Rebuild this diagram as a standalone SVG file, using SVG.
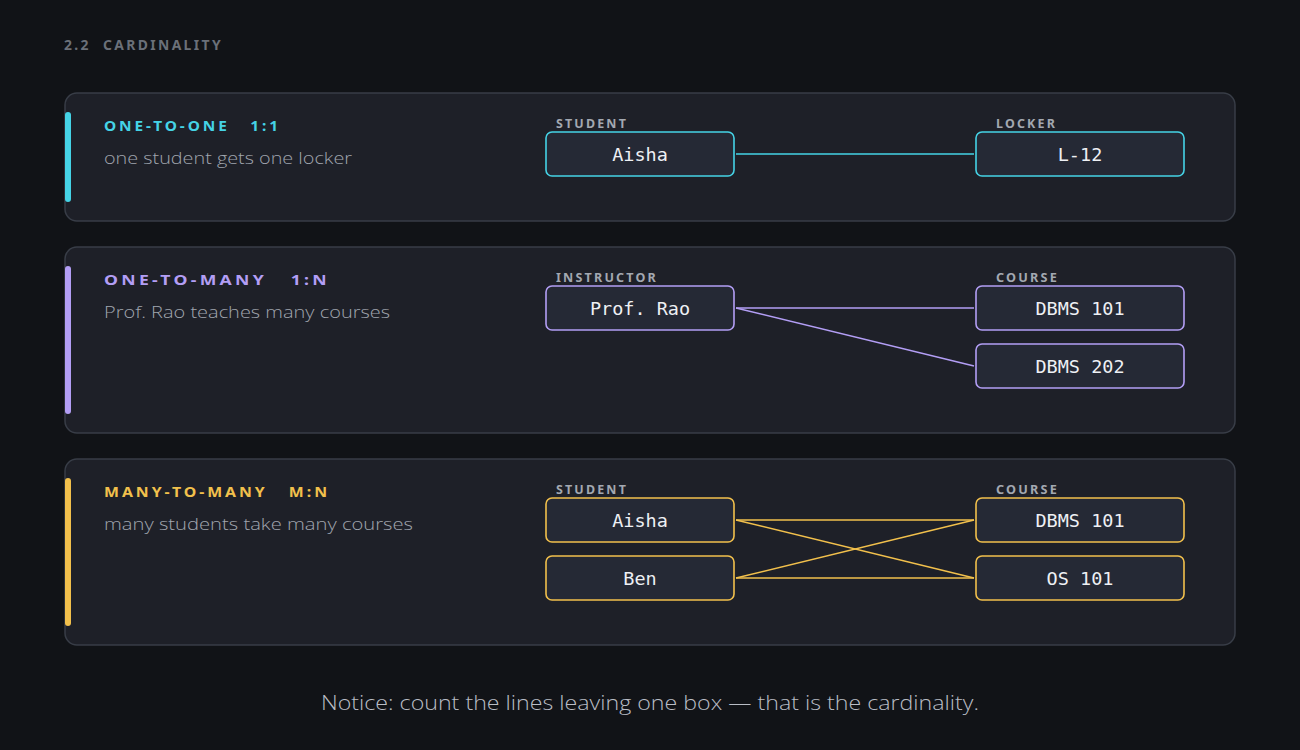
<svg xmlns="http://www.w3.org/2000/svg" width="1300" height="750" viewBox="0 0 1300 750">
<style>
text{white-space:pre}
.bg{fill:#111317}
.panel{fill:#1e2028;stroke:#383d47;stroke-width:1.5}
.title{font-family:"Noto Sans","Liberation Sans",sans-serif;font-weight:700;font-size:14px;letter-spacing:2.4px;fill:#6b7079}
.head{font-family:"Noto Sans","Liberation Sans",sans-serif;font-weight:700;font-size:14px;letter-spacing:2.6px}
.sub{font-family:"Open Sans","Noto Sans",sans-serif;font-weight:300;font-size:17px;fill:#a0a5ae}
.lbl{font-family:"Noto Sans","Liberation Sans",sans-serif;font-weight:700;font-size:11.5px;letter-spacing:2px;fill:#a3a8b1}
.node{fill:#252935;stroke-width:1.6}
.ntxt{font-family:"DejaVu Sans Mono","Liberation Mono",monospace;font-size:18.5px;fill:#eef0f4;text-anchor:middle}
.cyan{stroke:#45d3e6}
.purple{stroke:#b39ef5}
.yellow{stroke:#f2c04c}
.conn line{stroke-width:1.5}
.foot{font-family:"Open Sans","Noto Sans",sans-serif;font-weight:300;font-size:21px;fill:#b9bdc5;text-anchor:middle}
</style>
<rect class="bg" x="0" y="0" width="1300" height="750"/>
<text class="title" x="64" y="50" xml:space="preserve" textLength="159" lengthAdjust="spacingAndGlyphs">2.2  CARDINALITY</text>

<g id="panel-one-to-one">
<rect class="panel" x="65" y="93" width="1170" height="128" rx="12"/>
<rect x="65" y="112" width="6" height="90" rx="3" fill="#45d3e6"/>
<text class="head" x="104" y="131" fill="#45d3e6" xml:space="preserve" textLength="177" lengthAdjust="spacingAndGlyphs">ONE-TO-ONE   1:1</text>
<text class="sub" x="104" y="164" textLength="248" lengthAdjust="spacingAndGlyphs">one student gets one locker</text>
</g>
<g id="panel-one-to-many">
<rect class="panel" x="65" y="247" width="1170" height="186" rx="12"/>
<rect x="65" y="266" width="6" height="148" rx="3" fill="#b39ef5"/>
<text class="head" x="104" y="285" fill="#b39ef5" xml:space="preserve" textLength="226" lengthAdjust="spacingAndGlyphs">ONE-TO-MANY   1:N</text>
<text class="sub" x="104" y="318" textLength="286" lengthAdjust="spacingAndGlyphs">Prof. Rao teaches many courses</text>
</g>
<g id="panel-many-to-many">
<rect class="panel" x="65" y="459" width="1170" height="186" rx="12"/>
<rect x="65" y="478" width="6" height="148" rx="3" fill="#f2c04c"/>
<text class="head" x="104" y="497" fill="#f2c04c" xml:space="preserve" textLength="226" lengthAdjust="spacingAndGlyphs">MANY-TO-MANY   M:N</text>
<text class="sub" x="104" y="530" textLength="309" lengthAdjust="spacingAndGlyphs">many students take many courses</text>
</g>

<g id="connectors" class="conn">
<line class="cyan" x1="736" y1="154" x2="974" y2="154"/>
<line class="purple" x1="736" y1="308" x2="974" y2="308"/>
<line class="purple" x1="736" y1="308" x2="974" y2="366"/>
<line class="yellow" x1="736" y1="520" x2="974" y2="520"/>
<line class="yellow" x1="736" y1="520" x2="974" y2="578"/>
<line class="yellow" x1="736" y1="578" x2="974" y2="520"/>
<line class="yellow" x1="736" y1="578" x2="974" y2="578"/>
</g>

<text class="lbl" x="556" y="128" textLength="72" lengthAdjust="spacingAndGlyphs">STUDENT</text>
<text class="lbl" x="996" y="128" textLength="61" lengthAdjust="spacingAndGlyphs">LOCKER</text>
<text class="lbl" x="556" y="282" textLength="102" lengthAdjust="spacingAndGlyphs">INSTRUCTOR</text>
<text class="lbl" x="996" y="282" textLength="63" lengthAdjust="spacingAndGlyphs">COURSE</text>
<text class="lbl" x="556" y="494" textLength="72" lengthAdjust="spacingAndGlyphs">STUDENT</text>
<text class="lbl" x="996" y="494" textLength="63" lengthAdjust="spacingAndGlyphs">COURSE</text>

<g id="node-aisha-1">
<rect class="node cyan" x="546" y="132" width="188" height="44" rx="6"/>
<text class="ntxt" x="640" y="160.5">Aisha</text>
</g>
<g id="node-l12">
<rect class="node cyan" x="976" y="132" width="208" height="44" rx="6"/>
<text class="ntxt" x="1080" y="160.5">L-12</text>
</g>
<g id="node-prof-rao">
<rect class="node purple" x="546" y="286" width="188" height="44" rx="6"/>
<text class="ntxt" x="640" y="314.5">Prof. Rao</text>
</g>
<g id="node-dbms101-a">
<rect class="node purple" x="976" y="286" width="208" height="44" rx="6"/>
<text class="ntxt" x="1080" y="314.5">DBMS 101</text>
</g>
<g id="node-dbms202">
<rect class="node purple" x="976" y="344" width="208" height="44" rx="6"/>
<text class="ntxt" x="1080" y="372.5">DBMS 202</text>
</g>
<g id="node-aisha-2">
<rect class="node yellow" x="546" y="498" width="188" height="44" rx="6"/>
<text class="ntxt" x="640" y="526.5">Aisha</text>
</g>
<g id="node-ben">
<rect class="node yellow" x="546" y="556" width="188" height="44" rx="6"/>
<text class="ntxt" x="640" y="584.5">Ben</text>
</g>
<g id="node-dbms101-b">
<rect class="node yellow" x="976" y="498" width="208" height="44" rx="6"/>
<text class="ntxt" x="1080" y="526.5">DBMS 101</text>
</g>
<g id="node-os101">
<rect class="node yellow" x="976" y="556" width="208" height="44" rx="6"/>
<text class="ntxt" x="1080" y="584.5">OS 101</text>
</g>

<text class="foot" x="650" y="710" textLength="658" lengthAdjust="spacingAndGlyphs">Notice: count the lines leaving one box — that is the cardinality.</text>
</svg>
